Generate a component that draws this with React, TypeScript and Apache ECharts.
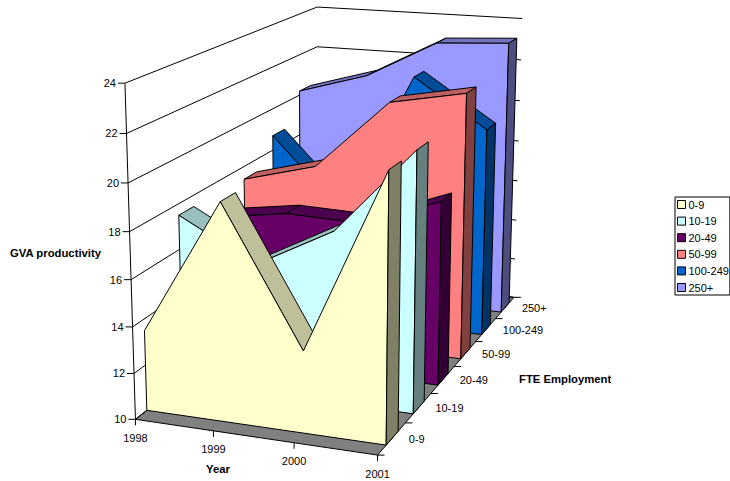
import React, { useEffect, useRef } from "react";
import * as echarts from "echarts";

const years = ["1998", "1999", "2000", "2001"];
const bands = ["0-9", "10-19", "20-49", "50-99", "100-249", "250+"];
const yTicks = [10, 12, 14, 16, 18, 20, 22, 24];

const v0_9 = [13.5, 19.3, 13.5, 21.2];
const v10_19 = [17.5, 15.7, 17.5, 21.2];
const v20_49 = [16.5, 17.0, 16.9, 18.2];
const v50_99 = [17.4, 18.3, 21.5, 22.15];
const v100_249 = [18.7, 15.3, 22.0, 19.8];
const v250 = [20.2, 21.2, 23.0, 23.2];
const bandValues = [v0_9, v10_19, v20_49, v50_99, v100_249, v250];

const fronts = ["#FFFFCC", "#CCFFFF", "#660066", "#FF8080", "#0066CC", "#9999FF"];
const tops = ["#BFBF99", "#99BFBF", "#4D004D", "#BF6060", "#004C99", "#7373BF"];
const sides = ["#808066", "#668080", "#330033", "#804040", "#003366", "#4D4D80"];

const FONT = "'Liberation Sans', Arial, sans-serif";
const BAND_FRONT = 0.3;
const BAND_BACK = 0.73;

// Camera calibration: [year index, depth, value, pixel x, pixel y]
const calibration: number[][] = [
  [0, 0, 10, 135.7, 419], [0, 0, 12, 134, 373], [0, 0, 14, 132, 327], [0, 0, 16, 130.7, 280],
  [0, 0, 18, 130, 231.7], [0, 0, 20, 128, 183], [0, 0, 22, 126.7, 133], [0, 0, 24, 125, 83],
  [1, 0, 10, 214.3, 431.7], [2, 0, 10, 294, 443], [3, 0, 10, 378, 455],
  [3, 1, 10, 404, 423], [3, 2, 10, 431, 393], [3, 3, 10, 454, 367], [3, 4, 10, 476, 341],
  [3, 5, 10, 495, 319], [3, 6, 10, 513, 297],
  [3, 6, 12, 515.6, 259], [3, 6, 14, 517, 220], [3, 6, 16, 518, 181], [3, 6, 18, 519, 141],
  [3, 6, 20, 519.5, 100], [3, 6, 22, 521, 60], [3, 6, 24, 522, 19],
  [0, 6, 24, 317, 7], [0, 6, 22, 317, 47],
];

function solve(A: number[][], b: number[]) {
  const n = b.length;
  const M = A.map((r, i) => [...r, b[i]]);
  for (let i = 0; i < n; i++) {
    let piv = i;
    for (let k = i + 1; k < n; k++) if (Math.abs(M[k][i]) > Math.abs(M[piv][i])) piv = k;
    [M[i], M[piv]] = [M[piv], M[i]];
    for (let k = i + 1; k < n; k++) {
      const f = M[k][i] / M[i][i];
      for (let j = i; j <= n; j++) M[k][j] -= f * M[i][j];
    }
  }
  const x = new Array(n).fill(0);
  for (let i = n - 1; i >= 0; i--) {
    let s = M[i][n];
    for (let j = i + 1; j < n; j++) s -= M[i][j] * x[j];
    x[i] = s / M[i][i];
  }
  return x;
}

function fitCamera() {
  const rows: number[][] = [];
  const rhs: number[] = [];
  for (const [t, d, v, px, py] of calibration) {
    const w = (v - 10) / 10;
    const u = px / 100;
    const k = py / 100;
    rows.push([t, d, w, 1, 0, 0, 0, 0, -u * t, -u * d, -u * w]);
    rhs.push(u);
    rows.push([0, 0, 0, 0, t, d, w, 1, -k * t, -k * d, -k * w]);
    rhs.push(k);
  }
  const n = 11;
  const AtA = Array.from({ length: n }, () => new Array(n).fill(0));
  const Atb = new Array(n).fill(0);
  rows.forEach((r, idx) => {
    for (let i = 0; i < n; i++) {
      Atb[i] += r[i] * rhs[idx];
      for (let j = 0; j < n; j++) AtA[i][j] += r[i] * r[j];
    }
  });
  return solve(AtA, Atb);
}

const cam = fitCamera();
function project(t: number, d: number, v: number): [number, number] {
  const w = (v - 10) / 10;
  const den = cam[8] * t + cam[9] * d + cam[10] * w + 1;
  return [
    (100 * (cam[0] * t + cam[1] * d + cam[2] * w + cam[3])) / den,
    (100 * (cam[4] * t + cam[5] * d + cam[6] * w + cam[7])) / den,
  ];
}

const poly = (points: number[][], fill: string) => ({
  type: "polygon",
  shape: { points },
  style: { fill, stroke: "#000", lineWidth: 1, lineJoin: "round" },
  silent: true,
});
const seg = (a: number[], b: number[], stroke = "#000") => ({
  type: "line",
  shape: { x1: a[0], y1: a[1], x2: b[0], y2: b[1] },
  style: { stroke, lineWidth: 1, fill: "none" },
  silent: true,
});
const label = (text: string, x: number, y: number, align: string, bold = false) => ({
  type: "text",
  x,
  y,
  style: {
    text,
    fill: "#000",
    fontFamily: FONT,
    fontSize: bold ? 11.3 : 11,
    fontWeight: bold ? "bold" : "normal",
    align,
    textAlign: align,
    verticalAlign: "middle",
    textVerticalAlign: "middle",
  },
  silent: true,
});

function renderFrame() {
  const last = years.length - 1;
  const depth = bands.length;
  const kids: any[] = [];
  kids.push(
    poly([project(0, 0, 10), project(last, 0, 10), project(last, depth, 10), project(0, depth, 10)], "#808080")
  );
  yTicks.forEach((v) => {
    const a = project(0, 0, v);
    const b = project(0, depth, v);
    const c = project(last, depth, v);
    kids.push(seg(a, b), seg(b, c), seg([a[0] - 7, a[1]], a));
    kids.push(label(String(v), a[0] - 9, a[1], "right"));
  });
  kids.push(seg(project(0, 0, 10), project(0, 0, 24)));
  years.forEach((y, i) => {
    const p = project(i, 0, 10);
    kids.push(seg(p, [p[0], p[1] + 6]));
    kids.push(label(y, p[0], p[1] + 18.5, "center"));
  });
  for (let i = 0; i <= depth; i++) {
    const p = project(last, i, 10);
    kids.push(seg(p, [p[0] + 7, p[1]]));
  }
  bands.forEach((b, i) => {
    const p = project(last, i + 0.5, 10);
    kids.push(label(b, p[0] + 17, p[1], "left"));
  });
  kids.push(label("GVA productivity", 10, 253, "left", true));
  kids.push(label("Year", 218, 469, "center", true));
  kids.push(label("FTE Employment", 519, 379, "left", true));
  return { type: "group", children: kids };
}

function renderBand(b: number) {
  const vals = bandValues[b];
  const last = vals.length - 1;
  const df = b + BAND_FRONT;
  const db = b + BAND_BACK;
  const kids: any[] = [];
  for (let i = 0; i < last; i++) {
    const q = [project(i, df, vals[i]), project(i + 1, df, vals[i + 1]), project(i + 1, db, vals[i + 1]), project(i, db, vals[i])];
    let area = 0;
    q.forEach((p, k) => {
      const r = q[(k + 1) % 4];
      area += p[0] * r[1] - r[0] * p[1];
    });
    if (area < 0) kids.push(poly(q, tops[b]));
  }
  const front = [project(0, df, 10), ...vals.map((v, i) => project(i, df, v)), project(last, df, 10)];
  kids.push(poly(front, fronts[b]));
  kids.push(poly([project(last, df, 10), project(last, df, vals[last]), project(last, db, vals[last]), project(last, db, 10)], sides[b]));
  return { type: "group", children: kids };
}

export default function App() {
  const ref = useRef<HTMLDivElement>(null);
  useEffect(() => {
    document.body.style.margin = "0";
    const chart = echarts.init(ref.current!, undefined, { renderer: "svg" });
    const bandSeries = bands
      .map((name, b) => ({
        type: "custom",
        name,
        coordinateSystem: "none",
        silent: true,
        itemStyle: { color: fronts[b], borderColor: "#000", borderWidth: 1 },
        data: bandValues[b].map((v, i) => [i, v]),
        renderItem: (params: any) => (params.dataIndex === 0 ? renderBand(b) : null),
      }))
      .reverse();
    chart.setOption({
      animation: false,
      backgroundColor: "#fff",
      legend: {
        left: 675,
        top: 197,
        orient: "vertical",
        data: bands.map((name, b) => ({
          name,
          icon: "rect",
          itemStyle: { color: fronts[b], borderColor: "#000", borderWidth: 1 },
        })),
        itemWidth: 8,
        itemHeight: 8,
        itemGap: 5.6,
        borderColor: "#000",
        borderWidth: 1,
        borderRadius: 0,
        padding: [2, 1, 2, 2],
        selectedMode: false,
        textStyle: { fontFamily: FONT, fontSize: 11, color: "#000", padding: [0, 0, 0, -2] },
      },
      series: [
        {
          type: "custom",
          name: "frame",
          coordinateSystem: "none",
          silent: true,
          data: [[0]],
          renderItem: () => renderFrame(),
        },
        ...bandSeries,
      ],
    });
    return () => chart.dispose();
  }, []);
  return <div ref={ref} style={{ width: 730, height: 481, overflow: "hidden" }} />;
}
